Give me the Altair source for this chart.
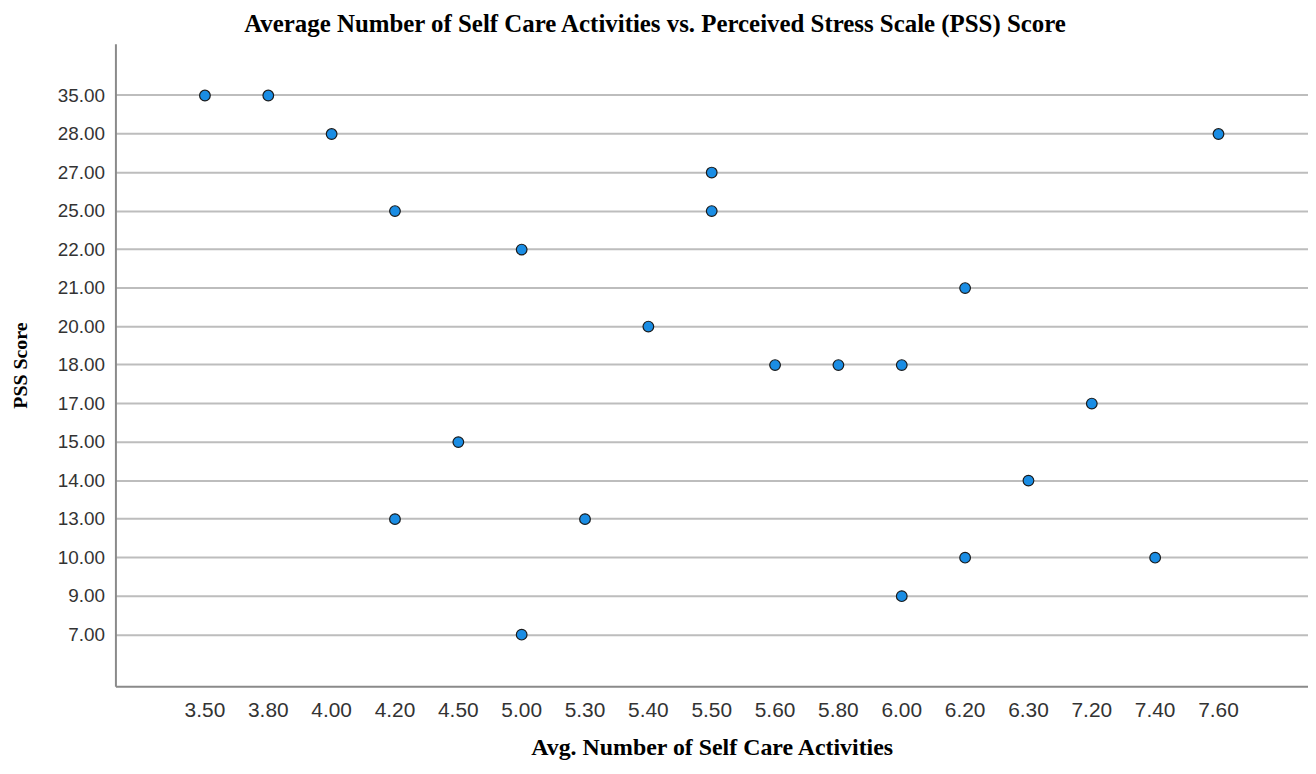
import altair as alt
import pandas as pd

x_categories = ["3.50", "3.80", "4.00", "4.20", "4.50", "5.00", "5.30", "5.40", "5.50",
                "5.60", "5.80", "6.00", "6.20", "6.30", "7.20", "7.40", "7.60"]
y_categories = ["35.00", "28.00", "27.00", "25.00", "22.00", "21.00", "20.00", "18.00",
                "17.00", "15.00", "14.00", "13.00", "10.00", "9.00", "7.00"]

activities = ["3.50", "3.80", "4.00", "7.60", "5.50", "4.20", "5.50", "5.00", "6.20", "5.40", "5.60",
              "5.80", "6.00", "7.20", "4.50", "6.30", "4.20", "5.30", "6.20", "7.40", "6.00", "5.00"]
pss = ["35.00", "35.00", "28.00", "28.00", "27.00", "25.00", "25.00", "22.00", "21.00", "20.00", "18.00",
       "18.00", "18.00", "17.00", "15.00", "14.00", "13.00", "13.00", "10.00", "10.00", "9.00", "7.00"]

df = pd.DataFrame({"activities": activities, "pss": pss})

label_font = "Liberation Sans"
serif = "Liberation Serif"

chart = alt.Chart(df).mark_circle(
    size=115, color="#1a8de4", opacity=1, stroke="#1a1a1a", strokeWidth=1.2
).encode(
    x=alt.X("activities:O", sort=x_categories,
            scale=alt.Scale(type="band", domain=x_categories, paddingInner=0, paddingOuter=0.913),
            axis=alt.Axis(title="Avg. Number of Self Care Activities", labelAngle=0, ticks=False,
                          grid=False, bandPosition=0.5, domainColor="#8a8a8a", domainWidth=2,
                          labelFont=label_font, labelFontSize=21, labelColor="#333333",
                          labelPadding=13, titleFont=serif, titleFontSize=24,
                          titleFontWeight="bold", titleColor="#000000",
                          titleY=68, titleBaseline="alphabetic")),
    y=alt.Y("pss:O", sort=y_categories,
            scale=alt.Scale(type="band", domain=y_categories, paddingInner=0, paddingOuter=0.843),
            axis=alt.Axis(title="PSS Score", ticks=False, grid=True, bandPosition=0.5,
                          gridColor="#bdbdbd", gridWidth=2, domainColor="#8a8a8a", domainWidth=2,
                          labelFont=label_font, labelFontSize=19, labelColor="#333333",
                          labelPadding=11, titleFont=serif, titleFontSize=20,
                          titleFontWeight="bold", titleColor="#000000",
                          titleX=-95, titleY=323, titleBaseline="middle", titleAngle=-90)),
).properties(
    width=1199,
    height=646,
    autosize=alt.AutoSizeParams(type="none"),
    padding={"left": 108, "top": 34, "right": 0, "bottom": 72},
    title=alt.TitleParams(
        "Average Number of Self Care Activities vs. Perceived Stress Scale (PSS) Score",
        font=serif, fontSize=25, fontWeight="bold", color="#000000",
        anchor="middle", dx=-57, offset=-5, baseline="middle"),
).configure_view(stroke=None)

chart.save("out.html", embed_options={"renderer": "svg", "actions": False})
